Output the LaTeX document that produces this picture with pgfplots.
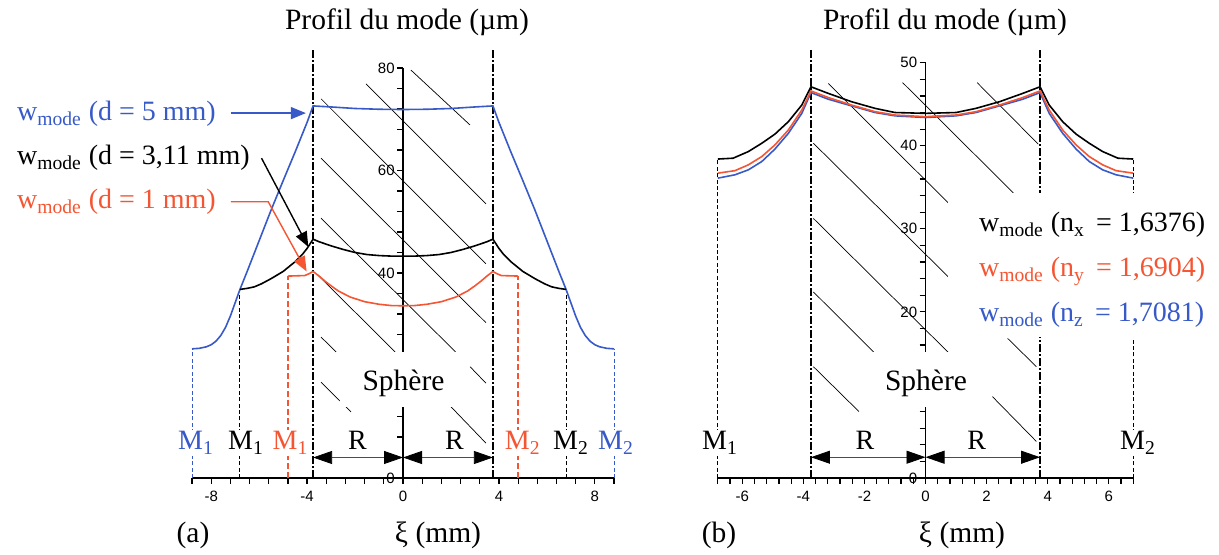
\documentclass[border=0pt]{standalone}
\usepackage{fontspec}
\setmainfont{Liberation Serif}
\setsansfont{Liberation Sans}
\usepackage{pgfplots}
\pgfplotsset{compat=1.18}
\usetikzlibrary{arrows.meta}

\definecolor{cblue}{RGB}{55,90,200}
\definecolor{cred}{RGB}{245,85,50}

\pgfplotsset{
  prof/.style={
    scale only axis, anchor=south west, clip=false,
    ymin=0, axis x line=bottom, axis y line=middle,
    axis line style={-, line width=0.7pt},
    every inner x axis line/.append style={-},
    every inner y axis line/.append style={-},
    every outer x axis line/.append style={-},
    tick align=outside, major tick length=3pt, minor tick length=3pt,
    tick style={black, line width=0.6pt},
    hide obscured x ticks=false, hide obscured y ticks=false,
    ticklabel style={font=\sffamily\fontsize{7.5}{9}\selectfont},
    yticklabel style={inner sep=1pt},
    /pgf/number format/assume math mode=true,
    every axis plot/.append style={line width=0.8pt},
  },
}
\tikzset{
  edge/.style={black, line width=0.6pt, dash pattern=on 4pt off 1.2pt on 0.6pt off 1.2pt},
  hatch/.style={black, line width=0.35pt},
  bdash/.style={line width=0.5pt, dash pattern=on 2pt off 1.2pt},
  rdash/.style={cred, line width=0.8pt, dash pattern=on 3pt off 1.5pt},
  rarr/.style={line width=0.4pt, black!70, {Triangle[length=9.5pt,width=6.5pt,black]}-{Triangle[length=9.5pt,width=6.5pt,black]}},
  big/.style={font=\fontsize{14.75}{17}\selectfont},
  mid/.style={font=\fontsize{14}{16}\selectfont},
}

\begin{document}
\begin{tikzpicture}
\useasboundingbox (0,0) rectangle (609.5pt,277.5pt);

% ---------------- (a)
\begin{axis}[prof, at={(96pt,38.5pt)}, width=211pt, height=205pt,
  xmin=-8.8, xmax=8.8, ymax=80,
  xtick={-8,-4,0,4,8},
  minor xtick={-8.8,-7.2,-6.4,-5.6,-4.8,-3.2,-2.4,-1.6,-0.8,0.8,1.6,2.4,3.2,4.8,5.6,6.4,7.2,8.8},
  ytick={0,40,60,80},
  minor ytick={4,8,12,16,20,24,28,32,36,44,48,52,56,64,68,72,76}]

\draw[hatch] (axis cs:0.33,79.6) -- (axis cs:2.79,68.9);
\draw[hatch] (axis cs:-1.54,76.9) -- (axis cs:3.46,53.5);
\draw[hatch] (axis cs:-3.42,74.0) -- (axis cs:3.46,41.8);
\draw[hatch] (axis cs:-3.42,62.4) -- (axis cs:3.46,30.3);
\draw[hatch] (axis cs:-3.42,50.7) -- (axis cs:2.19,24.6);
\draw[hatch] (axis cs:2.80,21.7) -- (axis cs:3.46,18.5);
\draw[hatch] (axis cs:-3.55,39.6) -- (axis cs:-0.33,24.6);
\draw[hatch] (axis cs:2.0,13.9) -- (axis cs:3.46,6.8);
\draw[hatch] (axis cs:-3.42,27.5) -- (axis cs:-2.79,24.6);
\draw[hatch] (axis cs:-3.42,18.7) -- (axis cs:-2.17,12.9);

\addplot[edge] coordinates {(-3.75,0) (-3.75,83.5)};
\addplot[edge] coordinates {(3.75,0) (3.75,83.5)};
\addplot[cblue, bdash] coordinates {(-8.8,0) (-8.8,25.2)};
\addplot[cblue, bdash] coordinates {(8.8,0) (8.8,25.2)};
\addplot[black, bdash] coordinates {(-6.8,0) (-6.8,36.8)};
\addplot[black, bdash] coordinates {(6.8,0) (6.8,36.8)};
\addplot[rdash] coordinates {(-4.8,0) (-4.8,39.4)};
\addplot[rdash] coordinates {(4.8,0) (4.8,39.4)};

% w_mode, d = 5 mm
\addplot[cblue] coordinates {
 (-8.8,25.2) (-8.5,25.3) (-8.2,25.6) (-8.0,26.0) (-7.8,26.7) (-7.6,27.8) (-7.4,29.4)
 (-7.2,31.6) (-7.0,34.2) (-6.8,36.8) (-6.5,40.3) (-6.2,43.9) (-6.0,46.3) (-5.5,52.3)
 (-5.0,58.0) (-4.5,63.6) (-4.0,69.4) (-3.75,72.6) (-3.0,72.4) (-2.0,72.1) (-1.0,71.95)
 (0,71.9) (1.0,71.95) (2.0,72.1) (3.0,72.4) (3.75,72.6) (4.0,69.4) (4.5,63.6) (5.0,58.0)
 (5.5,52.3) (6.0,46.3) (6.2,43.9) (6.5,40.3) (6.8,36.8) (7.0,34.2) (7.2,31.6) (7.4,29.4)
 (7.6,27.8) (7.8,26.7) (8.0,26.0) (8.2,25.6) (8.5,25.3) (8.8,25.2)};
% w_mode, d = 3,11 mm
\addplot[black] coordinates {
 (-6.8,36.8) (-6.5,37.0) (-6.2,37.3) (-5.9,37.9) (-5.5,38.9) (-5.0,40.3) (-4.5,42.2)
 (-4.2,43.6) (-4.0,44.8) (-3.75,46.6) (-3.5,46.1) (-3.0,45.3) (-2.5,44.6) (-2.0,44.0)
 (-1.5,43.6) (-1.0,43.4) (-0.5,43.3) (0,43.3) (0.5,43.3) (1.0,43.4) (1.5,43.6) (2.0,44.0)
 (2.5,44.6) (3.0,45.3) (3.5,46.1) (3.75,46.6) (4.0,44.8) (4.2,43.6) (4.5,42.2) (5.0,40.3)
 (5.5,38.9) (5.9,37.9) (6.2,37.3) (6.5,37.0) (6.8,36.8)};
% w_mode, d = 1 mm
\addplot[cred] coordinates {
 (-4.8,39.4) (-4.1,39.5) (-3.9,39.9) (-3.75,40.3) (-3.5,39.4) (-3.25,38.4) (-3.0,37.5)
 (-2.7,36.5) (-2.2,35.3) (-1.6,34.4) (-1.0,33.9) (-0.5,33.65) (0,33.6) (0.5,33.65)
 (1.0,33.9) (1.6,34.4) (2.2,35.3) (2.7,36.5) (3.0,37.5) (3.25,38.4) (3.5,39.4) (3.75,40.3)
 (3.9,39.9) (4.1,39.5) (4.8,39.4)};

\draw[rarr] (axis cs:-3.75,4) -- (axis cs:0,4);
\draw[rarr] (axis cs:0,4) -- (axis cs:3.75,4);

\draw[cblue, line width=0.7pt, -{Triangle[length=7.5pt,width=6pt]}] (axis cs:-7.18,71.2) -- (axis cs:-4.05,71.2);
\draw[black, line width=0.7pt, -{Triangle[length=7.5pt,width=6pt]}] (axis cs:-5.9,62.4) -- (axis cs:-3.95,45.1);
\draw[cred, line width=0.7pt, -{Triangle[length=7.5pt,width=6pt]}] (axis cs:-7.18,53.9) -- (axis cs:-5.62,53.9) -- (axis cs:-4.02,40.3);
\end{axis}

% ---------------- (b)
\begin{axis}[prof, at={(358.9pt,38.5pt)}, width=207.7pt, height=207.65pt,
  xmin=-6.8, xmax=6.8, ymax=50,
  xtick={-6,-4,...,6},
  minor xtick={-6.8,-6.4,-5.6,-5.2,-4.8,-4.4,-3.6,-3.2,-2.8,-2.4,-1.6,-1.2,-0.8,-0.4,0.4,0.8,1.2,1.6,2.4,2.8,3.2,3.6,4.4,4.8,5.2,5.6,6.4,6.8},
  ytick={0,20,30,40,50},
  minor ytick={2,4,6,8,10,12,14,16,18,22,24,26,28,32,34,36,38,42,44,46,48}]

\draw[hatch] (axis cs:-3.18,47.5) -- (axis cs:0.75,33.1);
\draw[hatch] (axis cs:-0.75,47.6) -- (axis cs:2.88,34.3);
\draw[hatch] (axis cs:1.69,47.6) -- (axis cs:3.69,40.2);
\draw[hatch] (axis cs:-3.67,40.3) -- (axis cs:0.75,24.2);
\draw[hatch] (axis cs:2.69,16.8) -- (axis cs:3.63,13.4);
\draw[hatch] (axis cs:-3.67,31.25) -- (axis cs:0.75,15.1);
\draw[hatch] (axis cs:2.19,9.8) -- (axis cs:3.63,4.4);
\draw[hatch] (axis cs:-3.67,22.4) -- (axis cs:-1.68,15.1);
\draw[hatch] (axis cs:-3.67,13.4) -- (axis cs:-2.18,8.0);

\addplot[edge] coordinates {(-3.75,0) (-3.75,51.5)};
\addplot[edge] coordinates {(3.75,0) (3.75,51.5)};
\addplot[black, bdash] coordinates {(-6.8,0) (-6.8,38.4)};
\addplot[black, bdash] coordinates {(6.8,0) (6.8,38.4)};

% w_mode, n_z = 1,7081
\addplot[cblue] coordinates {
 (-6.8,36.1) (-6.24,36.5) (-5.8,37.1) (-5.36,38.1) (-4.93,39.6) (-4.49,41.5) (-4.05,43.9)
 (-3.75,46.4) (-3.18,45.6) (-2.42,44.8) (-1.65,44.0) (-1.0,43.6) (0,43.4) (1.0,43.6)
 (1.65,44.0) (2.42,44.8) (3.18,45.6) (3.75,46.4) (4.05,43.9) (4.49,41.5) (4.93,39.6)
 (5.36,38.1) (5.8,37.1) (6.24,36.5) (6.8,36.1)};
% w_mode, n_y = 1,6904
\addplot[cred] coordinates {
 (-6.8,36.7) (-6.24,37.0) (-5.8,37.7) (-5.36,38.7) (-4.93,40.1) (-4.49,41.9) (-4.05,44.3)
 (-3.75,46.6) (-3.18,45.8) (-2.42,44.9) (-1.65,44.1) (-1.0,43.7) (0,43.5) (1.0,43.7)
 (1.65,44.1) (2.42,44.9) (3.18,45.8) (3.75,46.6) (4.05,44.3) (4.49,41.9) (4.93,40.1)
 (5.36,38.7) (5.8,37.7) (6.24,37.0) (6.8,36.7)};
% w_mode, n_x = 1,6376
\addplot[black] coordinates {
 (-6.8,38.4) (-6.3,38.5) (-5.8,39.3) (-5.36,40.3) (-4.93,41.4) (-4.49,42.9) (-4.05,44.9)
 (-3.75,47.1) (-3.18,46.3) (-2.42,45.3) (-1.65,44.5) (-1.0,44.0) (0,43.9) (1.0,44.0)
 (1.65,44.5) (2.42,45.3) (3.18,46.3) (3.75,47.1) (4.05,44.9) (4.49,42.9) (4.93,41.4)
 (5.36,40.3) (5.8,39.3) (6.3,38.5) (6.8,38.4)};

\draw[rarr] (axis cs:-3.75,2.5) -- (axis cs:0,2.5);
\draw[rarr] (axis cs:0,2.5) -- (axis cs:3.75,2.5);
\end{axis}

% ---------------- texts (1 unit = 1 pixel of the reference)
\begin{scope}[x=0.5pt, y=0.5pt, every node/.style={big}]
\fill[white] (340,148) rectangle (468,203);
\node[anchor=base] at (403.5,164) {Sphère};
\fill[white] (862,148) rectangle (990,203);
\node[anchor=base] at (926,164) {Sphère};
\fill[white] (948,218) rectangle (1216,362);

\node[anchor=base] at (407,525) {Profil du mode (µm)};
\node[anchor=base] at (945,525) {Profil du mode (µm)};
\node[anchor=base] at (193,12) {(a)};
\node[anchor=base] at (438,12) {ξ (mm)};
\node[anchor=base] at (719,12) {(b)};
\node[anchor=base] at (962,12) {ξ (mm)};

\node[mid, anchor=base west, text=cblue] at (10,434) {w\textsubscript{mode} (d = 5 mm)};
\node[mid, anchor=base west] at (10,390) {w\textsubscript{mode} (d = 3,11 mm)};
\node[mid, anchor=base west, text=cred] at (10,346) {w\textsubscript{mode} (d = 1 mm)};

\node[mid, anchor=base west] at (972,323) {w\textsubscript{mode} (n\textsubscript{x}\hspace{0.4em}= 1,6376)};
\node[mid, anchor=base west, text=cred] at (972,278) {w\textsubscript{mode} (n\textsubscript{y}\hspace{0.4em}= 1,6904)};
\node[mid, anchor=base west, text=cblue] at (972,233) {w\textsubscript{mode} (n\textsubscript{z}\hspace{0.4em}= 1,7081)};

\tikzset{mlab/.style={mid, anchor=base, fill=white, inner sep=1pt}}
\node[mlab, text=cblue] at (196,105) {M\textsubscript{1}};
\node[mlab] at (246,105) {M\textsubscript{1}};
\node[mlab, text=cred] at (290.5,105) {M\textsubscript{1}};
\node[mlab, text=cred] at (522.7,105) {M\textsubscript{2}};
\node[mlab] at (571,105) {M\textsubscript{2}};
\node[mlab, text=cblue] at (616,105) {M\textsubscript{2}};
\node[mlab] at (720,105) {M\textsubscript{1}};
\node[mlab] at (1138,105) {M\textsubscript{2}};

\node[mid, anchor=base] at (357.5,105) {R};
\node[mid, anchor=base] at (454.5,105) {R};
\node[mid, anchor=base] at (865,105) {R};
\node[mid, anchor=base] at (976.7,105) {R};
\end{scope}
\end{tikzpicture}
\end{document}
